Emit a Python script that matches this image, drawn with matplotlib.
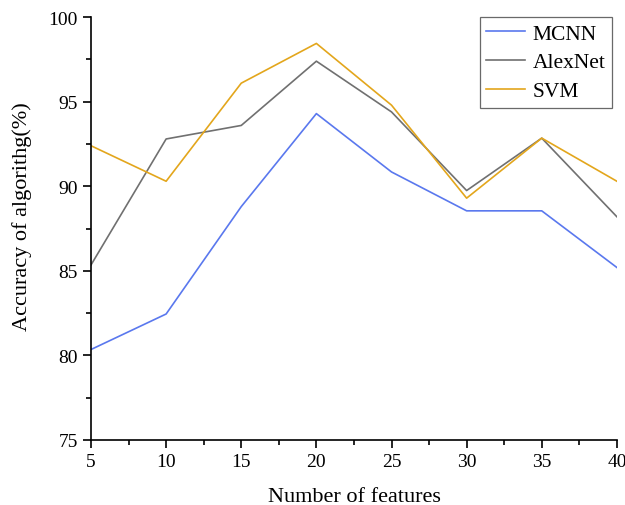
import matplotlib
matplotlib.use('Agg')
import matplotlib.pyplot as plt
from matplotlib.ticker import MultipleLocator

features = [5, 10, 15, 20, 25, 30, 35, 40]
mcnn = [80.35, 82.45, 88.8, 94.3, 90.85, 88.55, 88.55, 85.2]
alexnet = [85.35, 92.8, 93.6, 97.4, 94.4, 89.75, 92.85, 88.2]
svm = [92.4, 90.3, 96.1, 98.45, 94.8, 89.3, 92.85, 90.3]

plt.rcParams['font.family'] = ['Liberation Serif', 'DejaVu Serif']

fig = plt.figure(figsize=(6.25, 5.06), dpi=100)
ax = fig.add_axes([0.1456, 0.1285, 0.8414, 0.8355])

ax.plot(features, mcnn, color='#5a78ee', lw=1.2, label='MCNN')
ax.plot(features, alexnet, color='#707070', lw=1.2, label='AlexNet')
ax.plot(features, svm, color='#e3a61c', lw=1.2, label='SVM')

ax.set_xlim(5, 40)
ax.set_ylim(75, 100)
ax.xaxis.set_major_locator(MultipleLocator(5))
ax.xaxis.set_minor_locator(MultipleLocator(2.5))
ax.yaxis.set_major_locator(MultipleLocator(5))
ax.yaxis.set_minor_locator(MultipleLocator(2.5))
ax.spines['top'].set_visible(False)
ax.spines['right'].set_visible(False)
for s in ['left', 'bottom']:
    ax.spines[s].set_linewidth(1.2)
ax.tick_params(which='major', direction='out', length=6, width=1.2, labelsize=14)
ax.tick_params(which='minor', direction='out', length=3.5, width=1.2)

ax.set_xlabel('Number of features', fontsize=16, labelpad=12)
ax.set_ylabel('Accuracy of algorithg(%)', fontsize=16)
ax.yaxis.set_label_coords(-0.112, 0.53)

leg = ax.legend(loc='upper right', bbox_to_anchor=(0.99, 1.0), fontsize=15.5,
                frameon=True, fancybox=False, shadow=False, edgecolor='#444444',
                handlelength=1.8, handletextpad=0.35, borderaxespad=0.0,
                labelspacing=0.4, borderpad=0.3)
leg.get_frame().set_linewidth(0.9)

fig.savefig('out.png', dpi=100)
